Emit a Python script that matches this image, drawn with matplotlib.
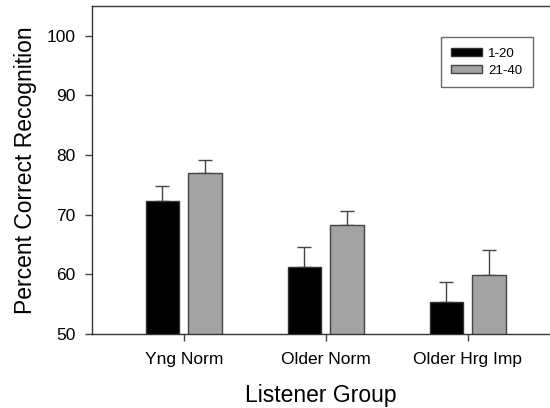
import numpy as np
import matplotlib.pyplot as plt

plt.rcParams['font.family'] = ['Liberation Sans', 'DejaVu Sans']

groups = ['Yng Norm', 'Older Norm', 'Older Hrg Imp']
labels = ['1-20', '21-40']
means_1_20 = [72.3, 61.2, 55.3]
means_21_40 = [77.0, 68.2, 59.9]
err_1_20 = [2.5, 3.4, 3.5]
err_21_40 = [2.1, 2.5, 4.2]

x = np.arange(len(groups))
w = 0.235
off = 0.15

fig = plt.figure(figsize=(5.5, 4.08), dpi=100)
ax = fig.add_axes([0.1673, 0.1814, 0.8327, 0.8039])

ax.bar(x - off, means_1_20, w, color='black', edgecolor='#333333', linewidth=1, label=labels[0], zorder=2)
ax.bar(x + off, means_21_40, w, color='#a3a3a3', edgecolor='#444444', linewidth=1, label=labels[1], zorder=2)

zeros = [0] * len(groups)
ax.errorbar(x - off, means_1_20, yerr=[zeros, err_1_20], fmt='none', ecolor='#444444',
            elinewidth=1, capsize=5, capthick=1, zorder=1)
ax.errorbar(x + off, means_21_40, yerr=[zeros, err_21_40], fmt='none', ecolor='#444444',
            elinewidth=1, capsize=5, capthick=1, zorder=1)

ax.set_xlim(-0.646, 2.58)
ax.set_ylim(50, 105)
ax.set_yticks([50, 60, 70, 80, 90, 100])
ax.set_xticks(x)
ax.set_xticklabels(groups)
ax.tick_params(axis='both', labelsize=12.5, length=5, width=1, color='#444444', direction='out')
ax.tick_params(axis='x', pad=8)
ax.tick_params(axis='y', pad=7)

ax.spines['right'].set_visible(False)
for s in ['left', 'top', 'bottom']:
    ax.spines[s].set_linewidth(1)
    ax.spines[s].set_color('#333333')

ax.set_xlabel('Listener Group', fontsize=16.5, labelpad=12)
ax.set_ylabel('Percent Correct Recognition', fontsize=16.5, labelpad=7)

leg = ax.legend(loc='upper right', bbox_to_anchor=(0.963, 0.9055), fontsize=9.5, frameon=True,
                fancybox=False, edgecolor='#444444', handlelength=2.3, handleheight=0.6,
                borderpad=0.8, labelspacing=0.4, handletextpad=0.5, borderaxespad=0)
leg.get_frame().set_linewidth(1)

fig.savefig('out.png', dpi=100)
